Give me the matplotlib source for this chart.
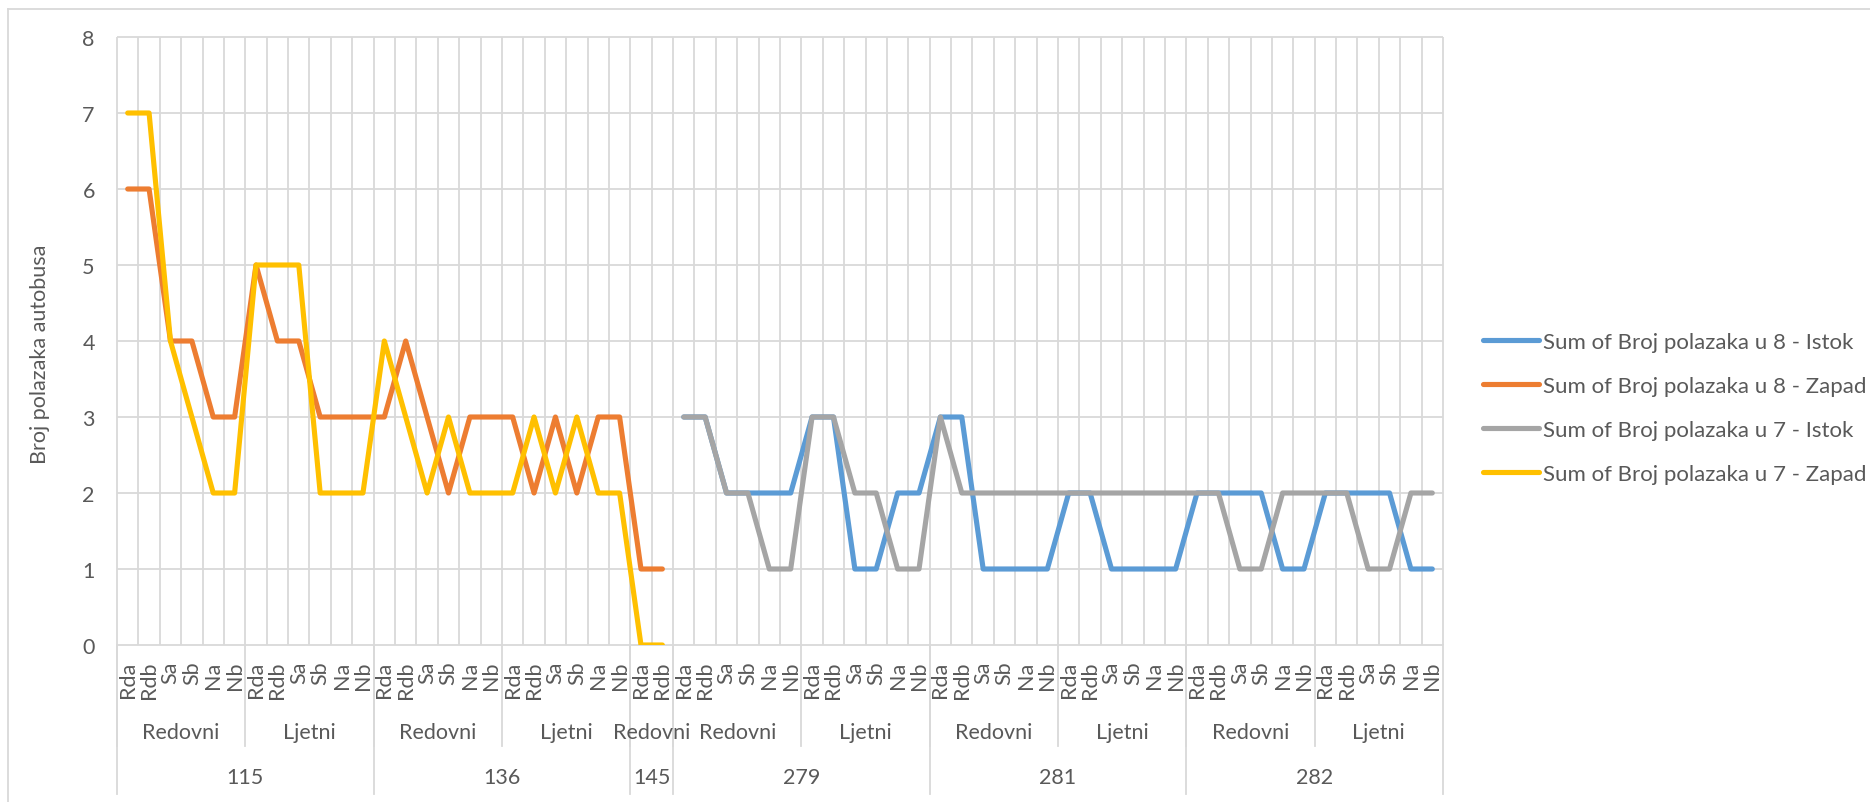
import numpy as np
import matplotlib
matplotlib.use("Agg")
import matplotlib.pyplot as plt
from matplotlib.lines import Line2D

plt.rcParams['font.family'] = ['Lato', 'DejaVu Sans']

# ---- data ----
day_codes = ['Rda', 'Rdb', 'Sa', 'Sb', 'Na', 'Nb']
routes = ['115', '136', '145', '279', '281', '282']
route_periods = {
    '115': [('Redovni', 6), ('Ljetni', 6)],
    '136': [('Redovni', 6), ('Ljetni', 6)],
    '145': [('Redovni', 2)],
    '279': [('Redovni', 6), ('Ljetni', 6)],
    '281': [('Redovni', 6), ('Ljetni', 6)],
    '282': [('Redovni', 6), ('Ljetni', 6)],
}
nan = np.nan
istok_8 = [nan] * 26 + [3, 3, 2, 2, 2, 2, 3, 3, 1, 1, 2, 2,
                        3, 3, 1, 1, 1, 1, 2, 2, 1, 1, 1, 1,
                        2, 2, 2, 2, 1, 1, 2, 2, 2, 2, 1, 1]
zapad_8 = [6, 6, 4, 4, 3, 3, 5, 4, 4, 3, 3, 3,
           3, 4, 3, 2, 3, 3, 3, 2, 3, 2, 3, 3,
           1, 1] + [nan] * 36
istok_7 = [nan] * 26 + [3, 3, 2, 2, 1, 1, 3, 3, 2, 2, 1, 1,
                        3, 2, 2, 2, 2, 2, 2, 2, 2, 2, 2, 2,
                        2, 2, 1, 1, 2, 2, 2, 2, 1, 1, 2, 2]
zapad_7 = [7, 7, 4, 3, 2, 2, 5, 5, 5, 2, 2, 2,
           4, 3, 2, 3, 2, 2, 2, 3, 2, 3, 2, 2,
           0, 0] + [nan] * 36
series_names = ['Sum of Broj polazaka u 8 - Istok', 'Sum of Broj polazaka u 8 - Zapad',
                'Sum of Broj polazaka u 7 - Istok', 'Sum of Broj polazaka u 7 - Zapad']
series_values = [istok_8, zapad_8, istok_7, zapad_7]
series_colors = ['#5B9BD5', '#ED7D31', '#A5A5A5', '#FFC000']
y_ticks = [0, 1, 2, 3, 4, 5, 6, 7, 8]
y_label = 'Broj polazaka autobusa'

# ---- build category structure ----
cat_labels = []
period_groups = []   # (label, start, end)
route_groups = []    # (label, start, end)
for r in routes:
    r_start = len(cat_labels)
    for pname, n in route_periods[r]:
        p_start = len(cat_labels)
        cat_labels.extend(day_codes[:n])
        period_groups.append((pname, p_start, len(cat_labels)))
    route_groups.append((r, r_start, len(cat_labels)))
N = len(cat_labels)
x = np.arange(N)

# ---- figure ----
W, H = 1870, 803
fig = plt.figure(figsize=(W / 100, H / 100), dpi=100)
L, R, T, B = 117, 1443, 38, 646
ax = fig.add_axes([L / W, 1 - B / H, (R - L) / W, (B - T) / H])
ax.set_xlim(-0.5, N - 0.5)
ax.set_ylim(0, 8)
for s in ax.spines.values():
    s.set_visible(False)

grid_c = '#D9D9D9'
text_c = '#595959'
ax.hlines(y_ticks, -0.5, N - 0.5, colors=grid_c, lw=1.3, zorder=1, clip_on=False)
ax.vlines(np.arange(N + 1) - 0.5, 0, 8, colors=grid_c, lw=1.3, zorder=1, clip_on=False)

for vals, c, name in zip(series_values, series_colors, series_names):
    ax.plot(x, vals, color=c, lw=3.7, solid_capstyle='round', solid_joinstyle='round',
            zorder=3, label=name)

ax.set_yticks(y_ticks)
ax.set_yticklabels([str(v) for v in y_ticks], fontsize=15.5, color=text_c)
ax.tick_params(axis='y', length=0, pad=16)
ax.set_xticks(x)
ax.set_xticklabels(cat_labels, rotation=90, fontsize=15.5, color=text_c)
ax.tick_params(axis='x', length=0, pad=11)
ax.set_ylabel(y_label, fontsize=15.5, color=text_c)
ax.yaxis.set_label_coords(-(L - 50) / (R - L), 0.48)

ph = B - T
def yf(py):
    return (B - py) / ph

tr = ax.get_xaxis_transform()
# period separators and labels
for name, s, e in period_groups:
    ax.text((s + e - 1) / 2, yf(733), name, transform=tr, ha='center', va='center',
            fontsize=15.5, color=text_c)
    ax.plot([s - 0.5, s - 0.5], [0, yf(747)], transform=tr, color=grid_c, lw=1.3, clip_on=False)
# route separators and labels
for name, s, e in route_groups:
    ax.text((s + e - 1) / 2, yf(778), name, transform=tr, ha='center', va='center',
            fontsize=15.5, color=text_c)
    ax.plot([s - 0.5, s - 0.5], [0, yf(795)], transform=tr, color=grid_c, lw=1.3, clip_on=False)
ax.plot([N - 0.5, N - 0.5], [0, yf(795)], transform=tr, color=grid_c, lw=1.3, clip_on=False)

# chart area border
fig.add_artist(Line2D([8 / W, 8 / W], [0, 1 - 10 / H], color=grid_c, lw=1.3))
fig.add_artist(Line2D([8 / W, 1], [1 - 10 / H, 1 - 10 / H], color=grid_c, lw=1.3))

handles, labels = ax.get_legend_handles_labels()
fig.legend(handles, labels, loc='center left', bbox_to_anchor=(1483 / W, 1 - 409 / H),
           frameon=False, fontsize=16, handlelength=2.5, handletextpad=0.2,
           labelspacing=1.08, borderpad=0, borderaxespad=0, labelcolor=text_c)

fig.savefig('out.png', dpi=100, facecolor='white')
